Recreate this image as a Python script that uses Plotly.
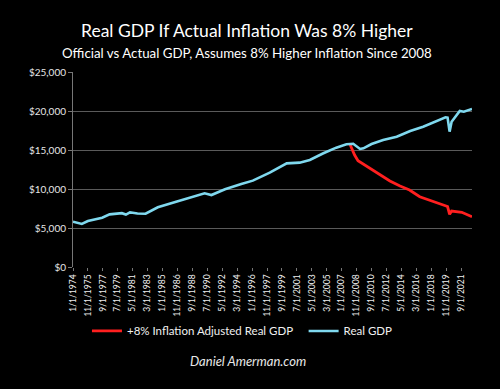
import plotly.graph_objects as go

# ---- data ----
real_dates = ["1974-01-01", "1975-02-01", "1975-11-01", "1976-06-01", "1977-08-01", "1978-07-01",
              "1979-07-01", "1980-01-01", "1980-07-01", "1981-01-01", "1981-05-01", "1981-12-01",
              "1982-12-01", "1984-06-01", "1986-09-01", "1988-10-01", "1990-03-01", "1991-01-01",
              "1992-09-01", "1994-09-01", "1996-02-01", "1998-03-01", "2000-04-01", "2001-11-01",
              "2003-02-01", "2004-10-01", "2006-05-01", "2007-08-01", "2008-01-01", "2008-06-01",
              "2009-04-01", "2009-09-01", "2010-09-01", "2012-02-01", "2013-10-01", "2015-06-01",
              "2017-01-01", "2018-09-01", "2019-10-01", "2020-01-01", "2020-04-01", "2020-07-01",
              "2021-07-01", "2022-01-01", "2023-01-01"]
real_gdp = [5800, 5520, 5900, 6030, 6320, 6750,
            6880, 6900, 6720, 7000, 6960, 6850,
            6830, 7650, 8370, 9000, 9450, 9230,
            9960, 10640, 11070, 12090, 13290, 13380,
            13720, 14580, 15300, 15730, 15770, 15800,
            15130, 15210, 15770, 16280, 16700, 17430,
            17990, 18720, 19190, 19150, 17350, 18630,
            20000, 19900, 20260]

adj_dates = ["2008-01-01", "2008-08-01", "2009-01-01", "2009-09-01", "2010-09-01", "2011-09-01",
             "2012-12-01", "2014-03-01", "2015-05-01", "2016-08-01", "2018-04-01", "2019-09-01",
             "2020-01-01", "2020-04-01", "2020-07-01", "2021-10-01", "2023-01-01"]
adj_gdp = [15770, 14360, 13630, 13170, 12560, 11790,
           11030, 10380, 9870, 9010, 8370, 7820,
           7750, 6750, 7180, 7010, 6450]

tick_dates = ["1974-01-01", "1975-11-01", "1977-09-01", "1979-07-01", "1981-05-01", "1983-03-01",
              "1985-01-01", "1986-11-01", "1988-09-01", "1990-07-01", "1992-05-01", "1994-03-01",
              "1996-01-01", "1997-11-01", "1999-09-01", "2001-07-01", "2003-05-01", "2005-03-01",
              "2007-01-01", "2008-11-01", "2010-09-01", "2012-07-01", "2014-05-01", "2016-03-01",
              "2018-01-01", "2019-11-01", "2021-09-01"]
tick_text = ["1/1/1974", "11/1/1975", "9/1/1977", "7/1/1979", "5/1/1981", "3/1/1983",
             "1/1/1985", "11/1/1986", "9/1/1988", "7/1/1990", "5/1/1992", "3/1/1994",
             "1/1/1996", "11/1/1997", "9/1/1999", "7/1/2001", "5/1/2003", "3/1/2005",
             "1/1/2007", "11/1/2008", "9/1/2010", "7/1/2012", "5/1/2014", "3/1/2016",
             "1/1/2018", "11/1/2019", "9/1/2021"]

y_ticks = [0, 5000, 10000, 15000, 20000, 25000]
y_tick_text = ["$0", "$5,000", "$10,000", "$15,000", "$20,000", "$25,000"]

title = "Real GDP If Actual Inflation Was 8% Higher"
subtitle = "Official vs Actual GDP, Assumes 8% Higher Inflation Since 2008"
credit = "Daniel Amerman.com"

FONT = "Lato"
LEG_FONT = dict(size=11.5, color="#f0f0f0", family=FONT)
fig = go.Figure()
fig.add_trace(go.Scatter(x=adj_dates, y=adj_gdp, mode="lines",
                         name="+8% Inflation Adjusted Real GDP", legend="legend",
                         line=dict(color="#ff1f1f", width=2.8)))
fig.add_trace(go.Scatter(x=real_dates, y=real_gdp, mode="lines",
                         name="Real GDP", legend="legend2",
                         line=dict(color="#7fd8ee", width=2.6)))

fig.update_layout(
    width=500, height=389,
    paper_bgcolor="black", plot_bgcolor="black",
    margin=dict(l=73, r=28, t=72, b=122, autoexpand=False),
    font=dict(family=FONT, color="#e0e0e0"),
    showlegend=True,
    legend=dict(orientation="h", x=0.035, y=-0.328, xanchor="left", yanchor="middle",
                font=LEG_FONT, bgcolor="rgba(0,0,0,0)"),
    legend2=dict(orientation="h", x=0.578, y=-0.328, xanchor="left", yanchor="middle",
                 font=LEG_FONT, bgcolor="rgba(0,0,0,0)"),
    xaxis=dict(type="date", range=["1974-01-01", "2023-01-01"], automargin=False,
               tickvals=tick_dates, ticktext=tick_text, tickangle=-90,
               tickfont=dict(size=8.5, color="#f0f0f0", family="Liberation Sans Narrow, Lato"),
               showgrid=False, showline=False, zeroline=False,
               ticks="outside", ticklen=3, tickcolor="#777"),
    yaxis=dict(range=[0, 25000], tickvals=y_ticks, ticktext=y_tick_text, automargin=False,
               tickfont=dict(size=10, color="#e6e6e6", family=FONT),
               showgrid=True, gridcolor="#5a5a5a", gridwidth=1,
               showline=True, linecolor="#777", linewidth=1, zeroline=False,
               ticks="outside", ticklen=4, tickcolor="#777"),
    annotations=[
        dict(text=title, x=0.436, y=1.215, xref="paper", yref="paper", showarrow=False,
             font=dict(size=17.5, color="white", family=FONT), xanchor="center", yanchor="middle"),
        dict(text=subtitle, x=0.436, y=1.098, xref="paper", yref="paper", showarrow=False,
             font=dict(size=13.3, color="white", family=FONT), xanchor="center", yanchor="middle"),
        dict(text="<i>" + credit + "</i>", x=0.438, y=-0.482, xref="paper", yref="paper",
             showarrow=False, font=dict(size=13, color="#e8e8e8", family=FONT),
             xanchor="center", yanchor="middle"),
    ],
)

fig.write_html("out.html", config={"displayModeBar": False},
               post_script="document.body.style.margin='0';document.body.style.background='black';")
